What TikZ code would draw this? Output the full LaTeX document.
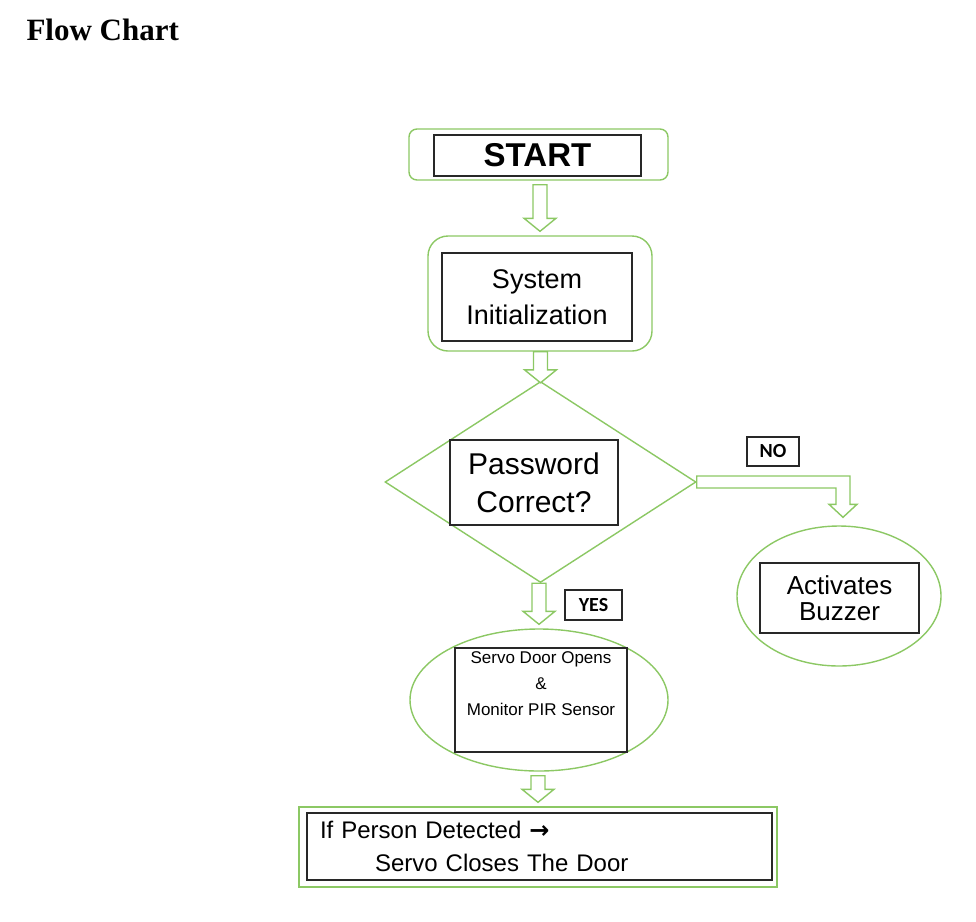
\documentclass[tikz,border=0pt]{standalone}
\usepackage{fontspec}
\setmainfont{Liberation Sans}
\newfontfamily\titlefont{Liberation Serif}
\newfontfamily\tagfont{Carlito}
\newfontfamily\arrowfont{DejaVu Sans}
\usetikzlibrary{positioning}
\usetikzlibrary{shapes.geometric}
\usetikzlibrary{calc}
\definecolor{framegreen}{RGB}{140,200,100}
\definecolor{boxline}{RGB}{40,40,40}
\tikzset{
  greenframe/.style = {draw=framegreen, line width=1.4pt, inner sep=0pt, fill=white},
  roundframe/.style = {greenframe, shape=rectangle, rounded corners=#1},
  textbox/.style    = {shape=rectangle, draw=boxline, line width=1.2pt,
                       inner sep=0pt, align=center, fill=white},
  tagbox/.style     = {textbox, font=\tagfont\bfseries\fontsize{20}{20}\selectfont},
  hollow/.style     = {draw=framegreen, line width=1.4pt, fill=white, line join=miter}
}
% hollow block arrow straight down, from one node to the next
\newcommand\downblock[2]{%
  \draw[hollow] let \p1 = ($(#1)+(0,4)$), \p2 = ($(#2)+(0,-4)$) in
    (\x2-7pt,\y1) -- (\x2-7pt,\y2+13pt) -- (\x2-16pt,\y2+13pt) -- (\x2,\y2)
    -- (\x2+16pt,\y2+13pt) -- (\x2+7pt,\y2+13pt) -- (\x2+7pt,\y1) -- cycle;}

\begin{document}
\begin{tikzpicture}[x=1pt, y=-1pt]
  \useasboundingbox (0,0) rectangle (976,921);
  \node [anchor=base west, font=\titlefont\bfseries\fontsize{31}{31}\selectfont] (title) at (23,40) {Flow Chart};

  % green frames
  \node [roundframe=8pt, minimum width=259pt, minimum height=51pt] (startframe) at (538.5,154.5) {};
  \node [roundframe=20pt, minimum width=224pt, minimum height=115pt] (initframe) at (540,293.5) {};
  \node [greenframe, shape=diamond, minimum width=311pt, minimum height=201pt] (check) at (540.5,482) {};
  \node [greenframe, shape=ellipse, minimum width=204pt, minimum height=140pt] (buzzer) at (839,596) {};
  \node [greenframe, shape=ellipse, minimum width=258pt, minimum height=142pt] (servo) at (539,700) {};
  \node [greenframe, shape=rectangle, minimum width=478pt, minimum height=80pt] (closeframe) at (538,847) {};

  % text boxes
  \node [textbox, minimum width=207pt, minimum height=41pt,
         font=\bfseries\fontsize{33}{33}\selectfont] (start) at (537.5,155.5) {START};
  \node [textbox, minimum width=190pt, minimum height=88pt,
         font=\fontsize{27}{36}\selectfont] (init) at (537,297) {System\\Initialization};
  \node [textbox, minimum width=168pt, minimum height=85pt,
         font=\fontsize{30}{38}\selectfont] (password) at (534,482.5) {Password\\Correct?};
  \node [textbox, minimum width=159pt, minimum height=70pt,
         font=\fontsize{26}{26}\selectfont] (alarm) at (839.5,598) {Activates\\Buzzer};
  \node [textbox, minimum width=172pt, minimum height=104pt,
         font=\fontsize{17}{26}\selectfont] (door) at (541,700) {Servo Door Opens\\\&\\Monitor PIR Sensor\\\strut};
  \node [textbox, text width=439pt, inner xsep=13pt, minimum height=67pt, align=left,
         font=\fontsize{24}{33}\selectfont] (close) at (539.5,846.5)
        {If Person Detected {\arrowfont\bfseries →}\\\hspace*{55pt}Servo Closes The Door};

  \node [tagbox, minimum width=52pt, minimum height=29pt] (no) at (773,451.5) {NO};
  \node [tagbox, minimum width=57pt, minimum height=30pt] (yes) at (593.5,605) {YES};

  % arrows
  \downblock{startframe.south}{initframe.north}
  \downblock{[yshift=4pt]initframe.south}{[yshift=-6pt]check.north}
  \downblock{[yshift=4pt]check.south}{servo.north}
  \downblock{servo.south}{closeframe.north}
  \draw[hollow] let \p1 = (check.east), \p2 = ($(buzzer.north)+(4,-8)$) in
    (\x1,\y1+6pt) -- (\x2+7pt,\y1+6pt) -- (\x2+7pt,\y2+13pt) -- (\x2+14pt,\y2+13pt)
    -- (\x2,\y2) -- (\x2-14pt,\y2+13pt) -- (\x2-7pt,\y2+13pt) -- (\x2-7pt,\y1-6pt)
    -- (\x1,\y1-6pt) -- cycle;
\end{tikzpicture}
\end{document}
